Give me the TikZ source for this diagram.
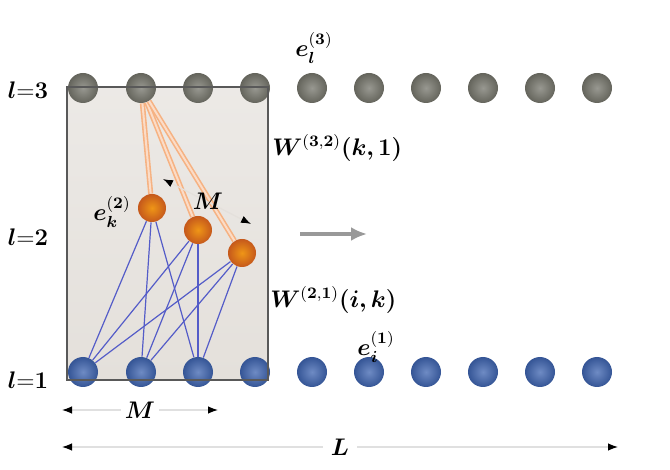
\documentclass[tikz,border=0pt]{standalone}
\usepackage{amsmath}
\usepackage{bm}
\usetikzlibrary{arrows.meta}
\definecolor{topgray}{RGB}{118,118,108}
\definecolor{botblue}{RGB}{62,100,176}
\definecolor{hidorange}{RGB}{232,104,32}
\definecolor{boxfill}{RGB}{228,224,219}
\definecolor{wblue}{RGB}{84,92,200}
\definecolor{worange}{RGB}{246,178,130}

\begin{document}
\begin{tikzpicture}[x=0.5pt,y=-0.5pt,font=\large,
  topball/.style={circle,minimum size=15pt,inner sep=0pt,shading=radial,inner color=topgray!75!white,outer color=topgray!85!black},
  botball/.style={circle,minimum size=15pt,inner sep=0pt,shading=radial,inner color=botblue!75!white,outer color=botblue!85!black},
  hidball/.style={circle,minimum size=14pt,inner sep=0pt,shading=radial,inner color=hidorange!70!yellow,outer color=hidorange!85!black},
  wline/.style={wblue,line width=0.6pt},
  oline/.style={worange,line width=0.8pt,double=worange!45,double distance=1pt},
  dimline/.style={black!12,line width=0.6pt,{Latex[black,length=5pt]}-{Latex[black,length=5pt]}}]
  \useasboundingbox (0,0) rectangle (670,470);
  \shade[top color=boxfill!70!white,bottom color=boxfill] (67,87) rectangle (268,380); % box

  % layer 3
  \node[topball] (t1) at (83,88) {};
  \node[topball] (t2) at (141,88) {};
  \node[topball] (t3) at (198,88) {};
  \node[topball] (t4) at (255,88) {};
  \node[topball] (t5) at (312,88) {};
  \node[topball] (t6) at (369,88) {};
  \node[topball] (t7) at (426,88) {};
  \node[topball] (t8) at (483,88) {};
  \node[topball] (t9) at (540,88) {};
  \node[topball] (t10) at (597,88) {};

  % layer 1
  \node[botball] (b1) at (83,372) {};
  \node[botball] (b2) at (141,372) {};
  \node[botball] (b3) at (198,372) {};
  \node[botball] (b4) at (255,372) {};
  \node[botball] (b5) at (312,372) {};
  \node[botball] (b6) at (369,372) {};
  \node[botball] (b7) at (426,372) {};
  \node[botball] (b8) at (483,372) {};
  \node[botball] (b9) at (540,372) {};
  \node[botball] (b10) at (597,372) {};

  % layer 2
  \node[hidball] (h1) at (152,208) {};
  \node[hidball] (h2) at (198,230) {};
  \node[hidball] (h3) at (242,253) {};

  \draw[oline] (t2) -- (h1);
  \draw[oline] (t2) -- (h2);
  \draw[oline] (t2) -- (h3);

  \draw[wline] (h1) -- (b1);
  \draw[wline] (h1) -- (b2);
  \draw[wline] (h1) -- (b3);
  \draw[wline] (h2) -- (b1);
  \draw[wline] (h2) -- (b2);
  \draw[wline] (h2) -- (b3);
  \draw[wline] (h3) -- (b1);
  \draw[wline] (h3) -- (b2);
  \draw[wline] (h3) -- (b3);

  \draw[black!65,line width=0.8pt] (67,87) rectangle (268,380); % box border

  %draw labels
  \node (l3) at (28,90) {$\bm{l}{=}\mathbf{3}$};
  \node (l2) at (28,237) {$\bm{l}{=}\mathbf{2}$};
  \node (l1) at (28,380) {$\bm{l}{=}\mathbf{1}$};
  \node (ek) at (112,212) {$\bm{e}_{\bm{k}}^{\mathbf{(2)}}$};
  \node (el) at (314,48) {$\bm{e}_{\bm{l}}^{\mathbf{(3)}}$};
  \node (ei) at (376,347) {$\bm{e}_{\bm{i}}^{\mathbf{(1)}}$};
  \node[anchor=west,inner sep=0pt] (w32) at (272,148) {$\bm{W}^{\mathbf{(3,2)}}\bm{(k,1)}$};
  \node[anchor=west,inner sep=0pt] (w21) at (270,300) {$\bm{W}^{\mathbf{(2,1)}}\bm{(i,k)}$};

  % M over the hidden units
  \coordinate (ma) at (163,179);
  \coordinate (mb) at (251,224);
  \draw[dimline,draw=boxfill] (ma) -- (mb);
  \node (mh) at (208,201) {$\bm{M}$};

  % direction arrow
  \coordinate (ga) at (300,234);
  \coordinate (gb) at (367,234);
  \draw[gray!80,line width=1.6pt,-{Latex[length=8pt,width=7pt]}] (ga) -- (gb);

  % widths
  \coordinate (m0) at (62,410);
  \coordinate (m1) at (218,410);
  \draw[dimline] (m0) -- node[fill=white,text=black,inner sep=2pt] (mw) {$\bm{M}$} (m1);
  \coordinate (L0) at (62,447);
  \coordinate (L1) at (618,447);
  \draw[dimline] (L0) -- node[fill=white,text=black,inner sep=4pt] (Lw) {$\bm{L}$} (L1);
\end{tikzpicture}
\end{document}
